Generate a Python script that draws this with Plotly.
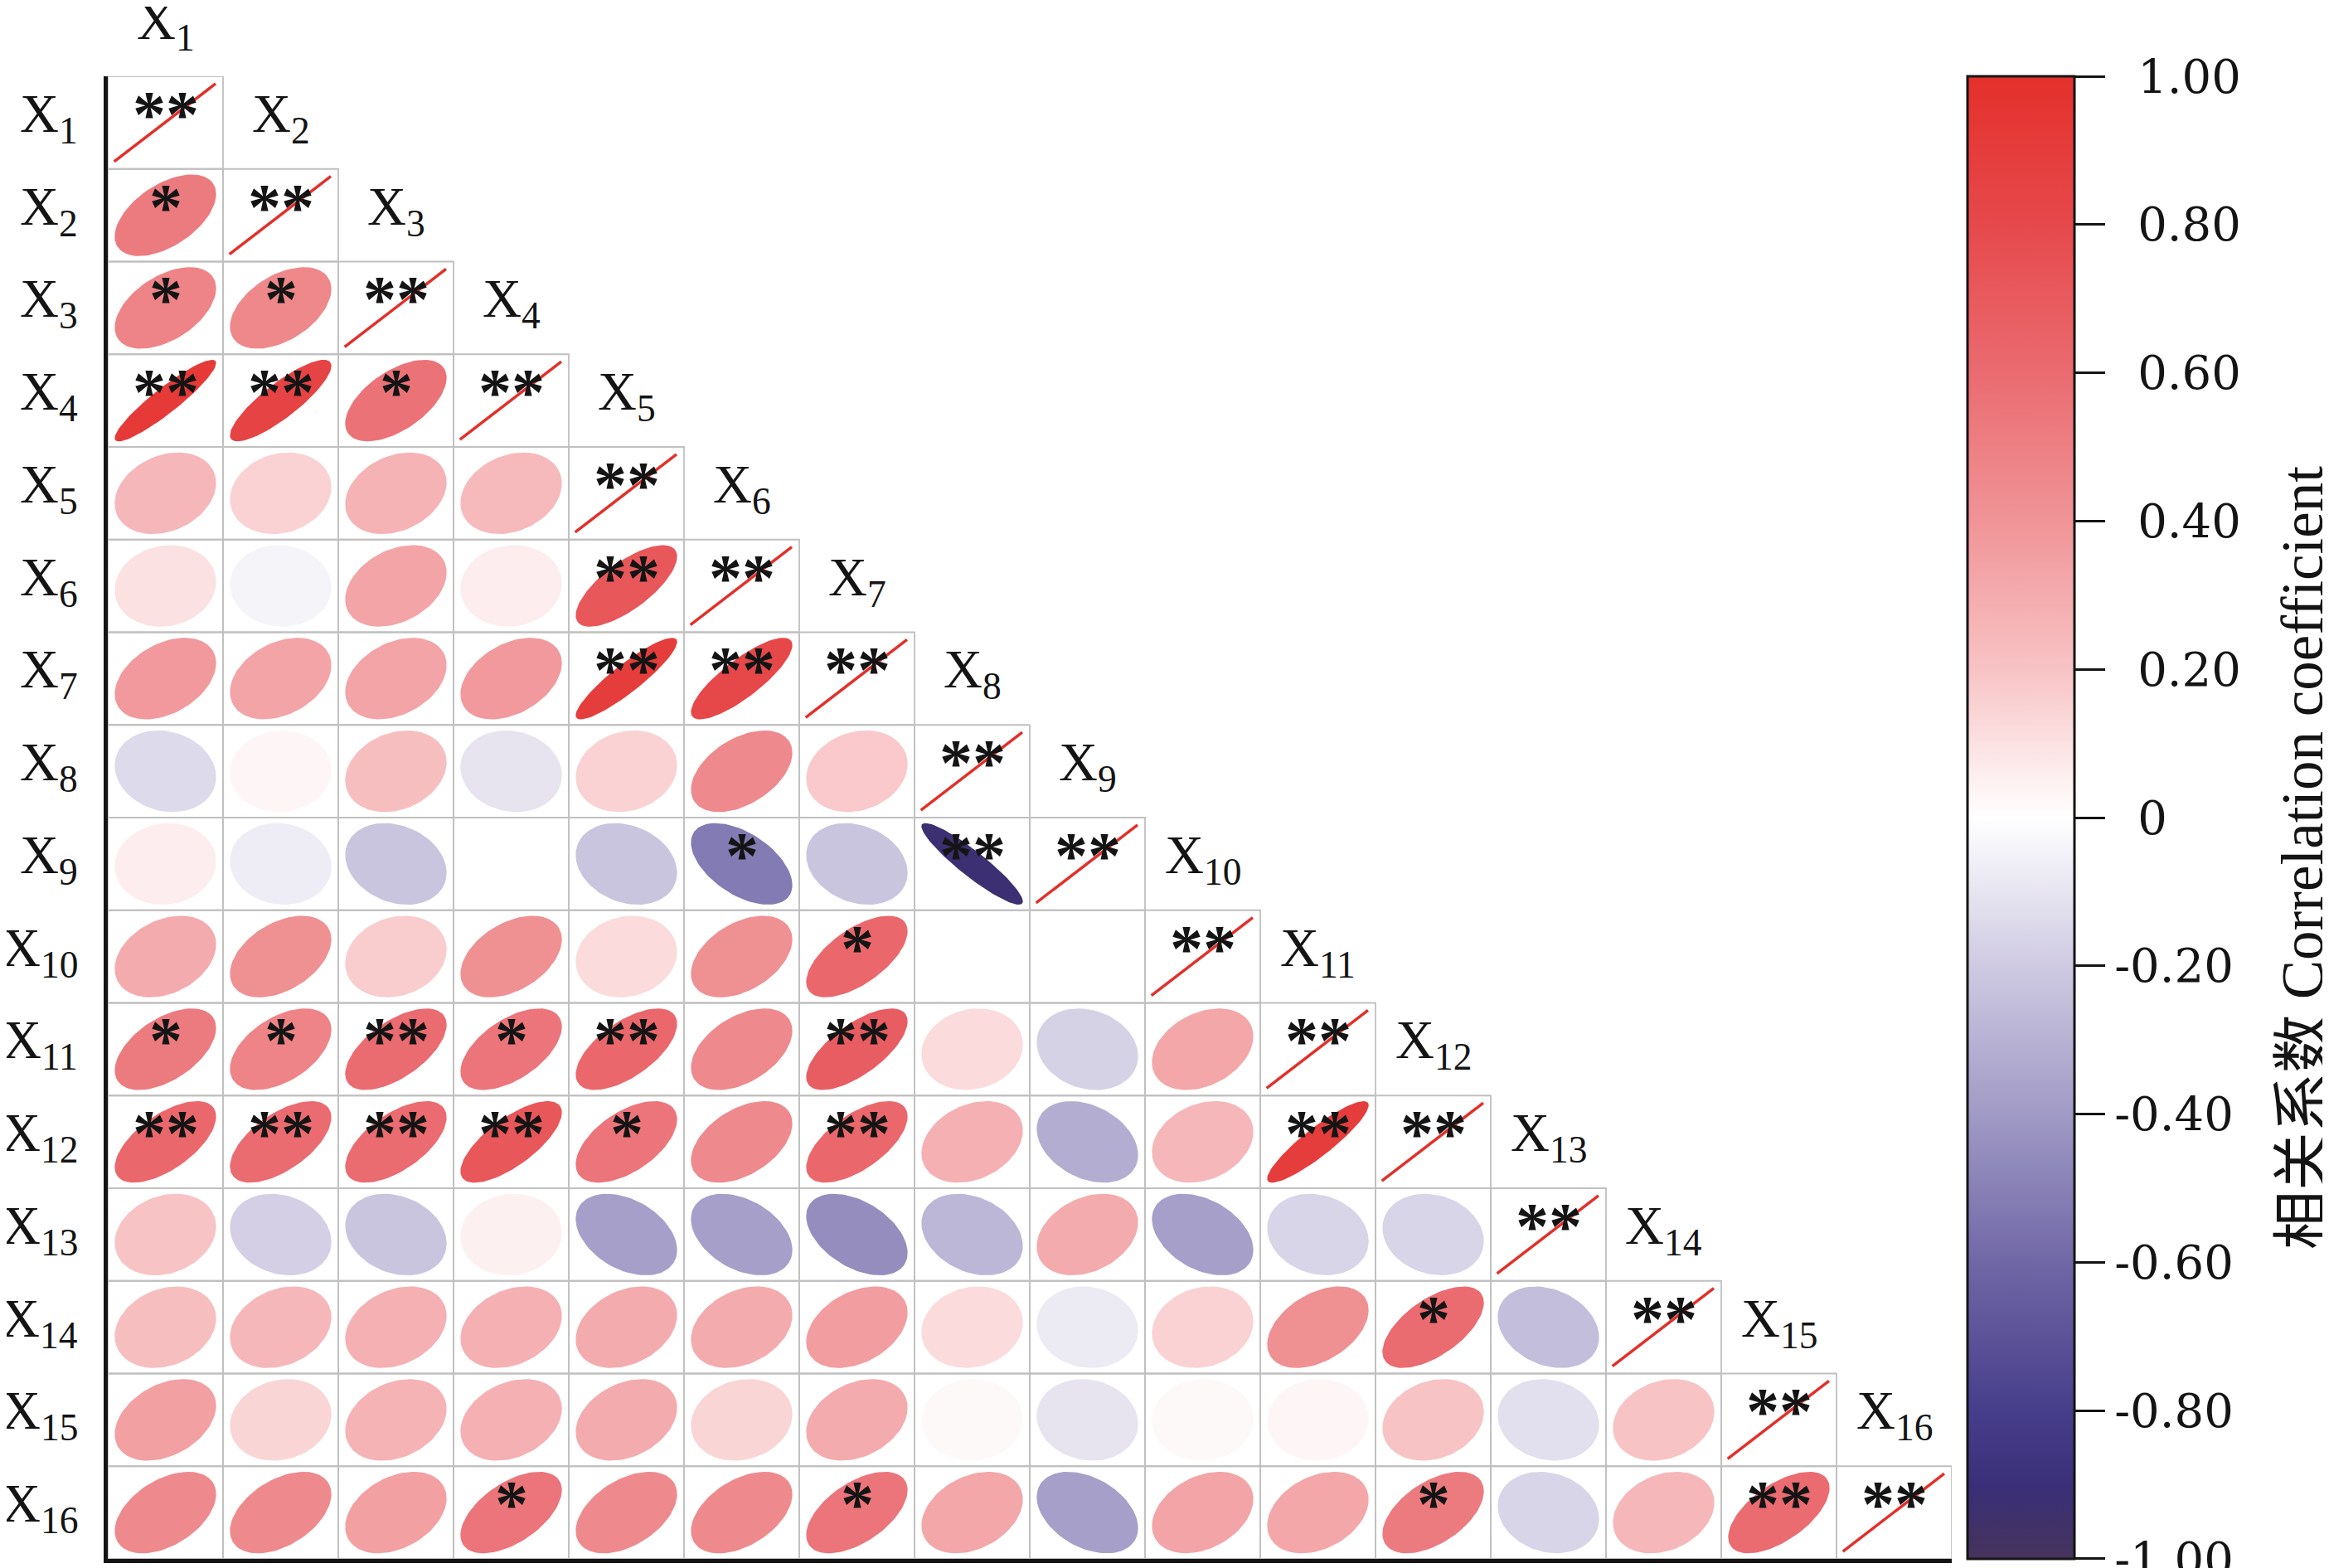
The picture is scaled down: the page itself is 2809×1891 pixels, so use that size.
import numpy as np
import plotly.graph_objects as go
from plotly.colors import sample_colorscale

# ---------------- data (lower triangle, row i has i-1 values) ----------------
var_names = ['1', '2', '3', '4', '5', '6', '7', '8',
             '9', '10', '11', '12', '13', '14', '15', '16']

corr = [
    [],
    [0.52],
    [0.48, 0.46],
    [0.92, 0.85, 0.56],
    [0.25, 0.15, 0.27, 0.24],
    [0.10, -0.04, 0.33, 0.06, 0.72],
    [0.38, 0.33, 0.33, 0.38, 0.90, 0.82],
    [-0.14, 0.03, 0.22, -0.10, 0.15, 0.45, 0.18],
    [0.06, -0.07, -0.22, 0.00, -0.22, -0.52, -0.22, -0.92],
    [0.30, 0.42, 0.17, 0.42, 0.12, 0.42, 0.62, 0.00, 0.00],
    [0.52, 0.48, 0.60, 0.55, 0.62, 0.45, 0.68, 0.12, -0.17, 0.32],
    [0.62, 0.60, 0.60, 0.72, 0.55, 0.45, 0.62, 0.28, -0.32, 0.25, 0.90],
    [0.20, -0.18, -0.22, 0.05, -0.38, -0.38, -0.45, -0.28, 0.30, -0.38, -0.16, -0.16],
    [0.22, 0.25, 0.28, 0.28, 0.30, 0.30, 0.36, 0.12, -0.08, 0.15, 0.42, 0.60, -0.25],
    [0.35, 0.14, 0.27, 0.28, 0.30, 0.14, 0.30, 0.02, -0.10, 0.02, 0.03, 0.20, -0.12, 0.20],
    [0.45, 0.45, 0.35, 0.55, 0.45, 0.45, 0.55, 0.32, -0.38, 0.33, 0.32, 0.52, -0.16, 0.25, 0.60],
]

sig = [
    [],
    ['*'],
    ['*', '*'],
    ['**', '**', '*'],
    ['', '', '', ''],
    ['', '', '', '', '**'],
    ['', '', '', '', '**', '**'],
    ['', '', '', '', '', '', ''],
    ['', '', '', '', '', '*', '', '**'],
    ['', '', '', '', '', '', '*', '', ''],
    ['*', '*', '**', '*', '**', '', '**', '', '', ''],
    ['**', '**', '**', '**', '*', '', '**', '', '', '', '**'],
    ['', '', '', '', '', '', '', '', '', '', '', ''],
    ['', '', '', '', '', '', '', '', '', '', '', '*', ''],
    ['', '', '', '', '', '', '', '', '', '', '', '', '', ''],
    ['', '', '', '*', '', '', '*', '', '', '', '', '*', '', '', '**'],
]
diag_sig = '**'

cbar_ticks = [1.0, 0.8, 0.6, 0.4, 0.2, 0.0, -0.2, -0.4, -0.6, -0.8, -0.9999]
cbar_text = ['1.00', '0.80', '0.60', '0.40', '0.20', '0',
             '-0.20', '-0.40', '-0.60', '-0.80', '-1.00']
cbar_title = '相关系数 Correlation coefficient'

# ---------------- style ----------------
W, H = 2809, 1891
N = len(var_names)
SERIF = 'Liberation Serif, Times New Roman, serif'
INK = '#141414'
GRID = '#c0c0c0'
DIAG_RED = '#e2302a'

cscale = [
    [0.00, '#45335c'],
    [0.05, '#3a2f78'],
    [0.10, '#473e8b'],
    [0.20, '#7067a6'],
    [0.30, '#a09ac6'],
    [0.40, '#cfcae2'],
    [0.50, '#ffffff'],
    [0.60, '#f8c3c5'],
    [0.70, '#f09497'],
    [0.80, '#ea6b70'],
    [0.90, '#e6494c'],
    [1.00, '#e4302b'],
]

ELL = 0.44       # ellipse half size in cell units
t = np.linspace(0, 2 * np.pi, 90)

fig = go.Figure()

# cell borders (lower triangle incl. diagonal)
bx, by = [], []
for i in range(1, N + 1):
    top = N - i + 1
    for j in range(1, i + 1):
        x0, x1 = j - 1, j
        bx += [x0, x1, x1, x0, x0, None]
        by += [top, top, top - 1, top - 1, top, None]
fig.add_trace(go.Scatter(x=bx, y=by, mode='lines',
                         line=dict(color=GRID, width=1.8),
                         hoverinfo='skip', showlegend=False))

# ellipses
for i in range(2, N + 1):
    cy = N - i + 0.5
    for j in range(1, i):
        r = corr[i - 1][j - 1]
        cx = j - 0.5
        d = np.arccos(r)
        ex = cx + ELL * np.cos(t + d / 2)
        ey = cy + ELL * np.cos(t - d / 2)
        col = sample_colorscale(cscale, [(r + 1) / 2])[0]
        fig.add_trace(go.Scatter(
            x=ex, y=ey, mode='lines', fill='toself',
            fillcolor=col, line=dict(width=0, color=col),
            hovertemplate=f'X{var_names[i-1]} – X{var_names[j-1]}: r = {r:.2f}<extra></extra>',
            showlegend=False,
        ))

# diagonal red lines
dx, dy = [], []
for i in range(1, N + 1):
    cx, cy = i - 0.5, N - i + 0.5
    dx += [cx - 0.445, cx + 0.435, None]
    dy += [cy - 0.42, cy + 0.42, None]
fig.add_trace(go.Scatter(x=dx, y=dy, mode='lines',
                         line=dict(color=DIAG_RED, width=3.5),
                         hoverinfo='skip', showlegend=False))

# colorbar (labels with a leading en space so that minus signs hang to the left)
PAD = '\u2002'
tick_labels = [s if s.startswith('-') else PAD + s for s in cbar_text]
fig.add_trace(go.Scatter(
    x=[None], y=[None], mode='markers',
    marker=dict(color=[0], cmin=-1, cmax=1, colorscale=cscale, showscale=True,
                colorbar=dict(
                    x=2365 / W, xanchor='left', xpad=0,
                    y=(H - 978) / H, yanchor='middle', ypad=0,
                    len=1788, lenmode='pixels', thickness=129,
                    outlinewidth=3, outlinecolor=INK,
                    ticks='outside', ticklen=36, tickwidth=3, tickcolor=INK,
                    tickvals=cbar_ticks, ticktext=tick_labels,
                    ticklabeloverflow='allow',
                    tickfont=dict(family='DejaVu Serif', size=56, color=INK),
                )),
    hoverinfo='skip', showlegend=False,
))

ann = []
# significance stars
for i in range(1, N + 1):
    cy = N - i + 0.5
    for j in range(1, i + 1):
        s = diag_sig if j == i else sig[i - 1][j - 1]
        if not s:
            continue
        ann.append(dict(x=j - 0.5, y=cy, xref='x', yref='y', text=f'<b>{s}</b>',
                        showarrow=False, yshift=10,
                        font=dict(family=SERIF, size=80, color=INK)))

# row labels (left) and column labels (stepping along the diagonal)
for k, name in enumerate(var_names, start=1):
    lab = f'X<sub>{name}</sub>'
    ann.append(dict(x=88 / W, y=N - k + 0.5, xref='paper', yref='y', text=lab,
                    xanchor='right', yanchor='middle', showarrow=False, yshift=6,
                    font=dict(family=SERIF, size=65, color=INK)))
    ann.append(dict(x=k - 0.5, y=(N - k + 1.5) / N, xref='x', yref='y domain', text=lab,
                    xanchor='center', yanchor='middle', showarrow=False, yshift=6,
                    font=dict(family=SERIF, size=65, color=INK)))

# colorbar title
ann.append(dict(x=2769 / W, y=(H - 1027) / H, xref='paper', yref='paper',
                text=cbar_title, textangle=-90, showarrow=False,
                xanchor='center', yanchor='middle',
                font=dict(family='Liberation Serif, Noto Sans CJK SC', size=71, color=INK)))

fig.update_layout(
    width=W, height=H, autosize=False,
    margin=dict(l=0, r=0, t=0, b=0),
    paper_bgcolor='white', plot_bgcolor='white',
    showlegend=False,
    annotations=ann,
    xaxis=dict(domain=[122 / W, 2346 / W], range=[0, N], showgrid=False, zeroline=False,
               showticklabels=False, ticks='', showline=True, linecolor=INK, linewidth=5),
    yaxis=dict(domain=[19 / H, 1807 / H], range=[0, N], showgrid=False, zeroline=False,
               showticklabels=False, ticks='', showline=True, linecolor=INK, linewidth=5),
)

fig.write_html('out.html')
